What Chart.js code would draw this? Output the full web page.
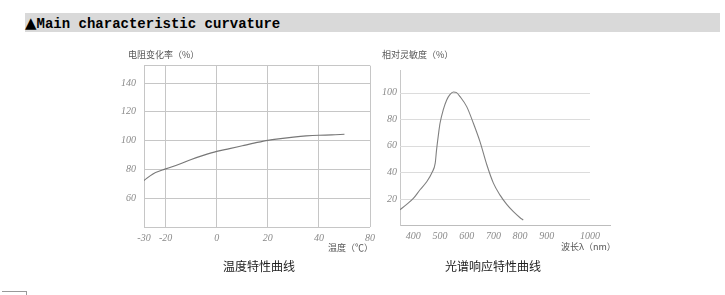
<!DOCTYPE html>
<html>
<head>
<meta charset="utf-8">
<script src="https://cdn.jsdelivr.net/npm/chart.js@4/dist/chart.umd.min.js"></script>
<style>
  body { margin: 0; width: 725px; height: 295px; background: #fff; position: relative; overflow: hidden; }
  .band { position: absolute; left: 25px; top: 13px; width: 695px; height: 19px; background: #d9d9d9; }
  .band span { position: absolute; left: 0; top: 1px; font: bold 14px "Liberation Mono", monospace; color: #000; white-space: pre; }
  .band b { font: 15px "DejaVu Sans", sans-serif; }
  canvas { position: absolute; }
  .t { position: absolute; font-family: "Noto Sans CJK SC", sans-serif; white-space: nowrap; color: #555; }
  .small { font-size: 9px; }
  .cap { font-size: 12px; color: #222; transform: translateX(-50%); }
  .foot { position: absolute; left: 2px; top: 291px; width: 24px; height: 3px; border-top: 1px solid #999; border-right: 1px solid #999; }
</style>
</head>
<body>
<div class="band"><span><b>▲</b>Main characteristic curvature</span></div>

<canvas id="temp" width="290" height="220" style="left:100px;top:40px"></canvas>
<canvas id="spec" width="270" height="220" style="left:360px;top:45px"></canvas>

<div class="t small" style="left:128px;top:48px">电阻变化率（%）</div>
<div class="t small" style="left:328px;top:241px">温度（℃）</div>
<div class="t cap" style="left:259px;top:257px">温度特性曲线</div>

<div class="t small" style="left:382px;top:48px">相对灵敏度（%）</div>
<div class="t small" style="left:561px;top:240px">波长λ（nm）</div>
<div class="t cap" style="left:493px;top:257px">光谱响应特性曲线</div>

<div class="foot"></div>

<script>
// temperature characteristic
const tempX = [-28.5, -25, -20, -15, -10, -5, 0, 5, 10, 15, 20, 25, 30, 35, 40, 45, 50];
const resistance = [72.5, 77, 80.5, 83.5, 87, 90, 92.6, 94.5, 96.5, 98.5, 100.3, 101.5, 102.5, 103.3, 103.8, 104, 104.5];
const tempTicks = [-28.5, -20, 0, 20, 40, 60];
const tempTickLabels = ['-30', '-20', '0', '20', '40', '80'];
const resTicks = [40, 60, 80, 100, 120, 140, 152];
const resTickLabels = ['', '60', '80', '100', '120', '140', ''];

// spectral response
const waveX = [350, 375, 400, 425, 450, 470, 482, 487, 495, 500, 512, 525, 537, 550, 562, 575, 600, 625, 650, 675, 700, 725, 750, 775, 800, 812];
const sensitivity = [12, 16, 20.5, 27, 33, 40, 47, 57, 70, 77, 87, 94.5, 98.5, 100.5, 100, 97, 89.5, 77, 63, 46, 32, 23, 16, 10.5, 6, 4.3];
const waveTicks = [400, 500, 600, 700, 800, 900, 1062];
const waveTickLabels = ['400', '500', '600', '700', '800', '900', '1000'];
const sensTicks = [20, 40, 60, 80, 100];
const waveGridEnd = 1062;

const tickFont = { family: 'Liberation Serif', style: 'italic', size: 10 };
const tickColor = '#8a8a8a';

const toPoints = (xs, ys) => xs.map((x, i) => ({ x: x, y: ys[i] }));

new Chart(document.getElementById('temp'), {
    type: 'line',
    data: {
        datasets: [{
            data: toPoints(tempX, resistance),
            borderColor: '#777',
            borderWidth: 1.2,
            pointRadius: 0,
            cubicInterpolationMode: 'monotone'
        }]
    },
    options: {
        responsive: false,
        animation: false,
        layout: { padding: { top: 25.7, right: 20, left: 0, bottom: 0 } },
        plugins: { legend: { display: false }, tooltip: { enabled: false } },
        scales: {
            x: {
                type: 'linear', min: -28.5, max: 60,
                afterBuildTicks: s => { s.ticks = tempTicks.map(v => ({ value: v })); },
                afterFit: s => { s.height = 32.7; },
                grid: { color: '#c6c6c6', drawTicks: false },
                border: { display: false },
                ticks: { padding: 5, autoSkip: false, maxRotation: 0, font: tickFont, color: tickColor,
                    callback: (v, i) => tempTickLabels[i] }
            },
            y: {
                type: 'linear', min: 40, max: 152,
                afterBuildTicks: s => { s.ticks = resTicks.map(v => ({ value: v })); },
                afterFit: s => { s.width = 44; },
                grid: { color: '#c6c6c6', drawTicks: false },
                border: { display: false },
                ticks: { padding: 8, autoSkip: false, font: tickFont, color: tickColor,
                    callback: (v, i) => resTickLabels[i] }
            }
        }
    }
});

// horizontal grid that stops short of the x axis end
const shortGrid = {
    id: 'shortGrid',
    beforeDatasetsDraw(chart) {
        const ctx = chart.ctx;
        const xs = chart.scales.x, ys = chart.scales.y;
        const x1 = xs.getPixelForValue(waveGridEnd);
        ctx.save();
        ctx.strokeStyle = '#dcdcdc';
        ctx.lineWidth = 1;
        sensTicks.forEach(v => {
            const y = Math.round(ys.getPixelForValue(v)) + 0.5;
            ctx.beginPath();
            ctx.moveTo(chart.chartArea.left, y);
            ctx.lineTo(x1, y);
            ctx.stroke();
        });
        ctx.restore();
    }
};

new Chart(document.getElementById('spec'), {
    type: 'line',
    data: {
        datasets: [{
            data: toPoints(waveX, sensitivity),
            borderColor: '#808080',
            borderWidth: 1.1,
            pointRadius: 0,
            cubicInterpolationMode: 'monotone'
        }]
    },
    options: {
        responsive: false,
        animation: false,
        layout: { padding: { top: 25.7, right: 20, left: 0, bottom: 0 } },
        plugins: { legend: { display: false }, tooltip: { enabled: false } },
        scales: {
            x: {
                type: 'linear', min: 350, max: 1137,
                afterBuildTicks: s => { s.ticks = waveTicks.map(v => ({ value: v })); },
                afterFit: s => { s.height = 39.3; },
                grid: { display: false, drawTicks: false },
                border: { color: '#bdbdbd' },
                ticks: { padding: 4.5, autoSkip: false, maxRotation: 0, font: tickFont, color: tickColor,
                    callback: (v, i) => waveTickLabels[i] }
            },
            y: {
                type: 'linear', min: 0, max: 116.5,
                afterBuildTicks: s => { s.ticks = sensTicks.map(v => ({ value: v })); },
                afterFit: s => { s.width = 40; },
                grid: { display: false, drawTicks: false },
                border: { color: '#c8c8c8' },
                ticks: { padding: 3, autoSkip: false, font: tickFont, color: tickColor }
            }
        }
    },
    plugins: [shortGrid]
});
</script>
</body>
</html>
